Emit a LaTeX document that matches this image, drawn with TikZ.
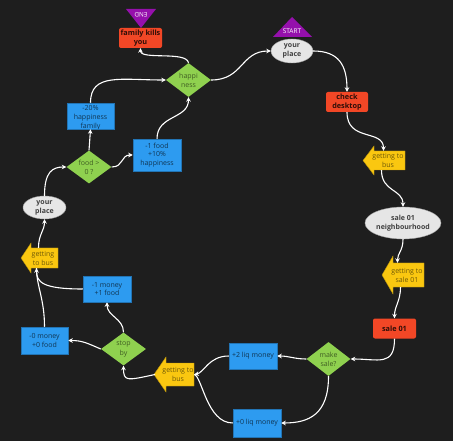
\documentclass[tikz,border=0pt]{standalone}
\usepackage{fontspec}
\setmainfont{Open Sans}
\usetikzlibrary{shapes.geometric,arrows.meta}
\definecolor{bg}{HTML}{1E1E1E}
\definecolor{cred}{HTML}{F24726}
\definecolor{cgreen}{HTML}{8FD14F}
\definecolor{cblue}{HTML}{2D9BF0}
\definecolor{cyellow}{HTML}{FAC710}
\definecolor{cpurple}{HTML}{9510AC}
\definecolor{cgray}{HTML}{E6E6E6}
\tikzset{
  redbox/.style={rectangle, rounded corners=2pt, fill=cred, inner sep=0pt, align=center,
    text=black!80!cred, font=\fontsize{7.3}{9.3}\selectfont\bfseries},
  bluebox/.style={rectangle, fill=cblue, draw=cblue!75!black, line width=0.5pt, inner sep=0pt, align=center,
    text=cblue!35!black, font=\fontsize{7}{8.8}\selectfont},
  ellbox/.style={ellipse, fill=cgray, draw=cgray!70!black, line width=0.4pt, inner sep=0pt},
  elltext/.style={align=center, text=black!75, font=\fontsize{7}{9}\selectfont\bfseries},
  dia/.style={diamond, fill=cgreen, inner sep=0pt},
  diatext/.style={align=center, text=cgreen!45!black, font=\fontsize{7}{9.2}\selectfont},
  yelbody/.style={rectangle, inner sep=0pt},
  yeltext/.style={align=center, text=cyellow!45!black, font=\fontsize{7}{9}\selectfont},
  yelfill/.style={fill=cyellow, draw=cyellow!75!black, line width=0.4pt},
  conn/.style={draw=white, line width=1.1pt, -{Stealth[length=4.5pt,width=4.5pt]}},
  plain/.style={draw=white, line width=1.1pt}
}
\begin{document}
\begin{tikzpicture}[x=1pt,y=-1pt]
\fill[bg] (0,0) rectangle (453,441);
\useasboundingbox (0,0) rectangle (453,441);

% ---------- triangles ----------
\fill[cpurple] (273,37) -- (292,17) -- (312,37) -- cycle;
\node[text=white, font=\fontsize{6.5}{8}\selectfont, inner sep=0pt] (starttxt) at (292,31) {START};
\fill[cpurple] (126,9) -- (156,9) -- (141,28) -- cycle;
\node[text=white, font=\fontsize{6.3}{8}\selectfont, inner sep=0pt, rotate=180] (endtxt) at (141,15) {END};

% ---------- red boxes ----------
\node[redbox, minimum width=43pt, minimum height=20pt] (fk) at (140.5,38) {family kills\\you};
\node[redbox, minimum width=42pt, minimum height=20pt] (cd) at (347,102) {check\\desktop};
\node[redbox, minimum width=43pt, minimum height=20pt] (s01) at (394.5,328.5) {sale 01};

% ---------- ellipses ----------
\node[ellbox, minimum width=42pt, minimum height=24pt] (yp1) at (292,51) {};
\node[elltext] at (yp1) {your\\place};
\node[ellbox, minimum width=76pt, minimum height=32pt] (snb) at (403,223) {};
\node[elltext] at (snb) {sale 01\\neighbourhood};
\node[ellbox, minimum width=43pt, minimum height=23pt] (yp2) at (44.5,207.5) {};
\node[elltext] at (yp2) {your\\place};

% ---------- diamonds ----------
\node[dia, minimum width=45pt, minimum height=34pt] (hap) at (188.5,80) {};
\node[diatext] at (hap) {happi\\ness};
\node[dia, minimum width=44pt, minimum height=34pt] (ms) at (328.5,359) {};
\node[diatext] at (ms) {make\\sale?};
\node[dia, minimum width=45pt, minimum height=33pt] (sb) at (123.5,349) {};
\node[diatext] at (sb) {stop\\by};
\node[dia, minimum width=45pt, minimum height=33pt] (fd) at (89,167) {};
\node[diatext] at (fd) {food >\\0 ?};

% ---------- blue boxes ----------
\node[bluebox, minimum width=48pt, minimum height=26pt] (p2) at (253,356) {+2 liq money};
\node[bluebox, minimum width=48pt, minimum height=28pt] (p0) at (257,423) {+0 liq money};
\node[bluebox, minimum width=47pt, minimum height=27pt] (m0) at (44.5,340.5) {-0 money\\+0 food};
\node[bluebox, minimum width=48pt, minimum height=26pt] (m1) at (107,289) {-1 money\\+1 food};
\node[bluebox, minimum width=48pt, minimum height=32pt] (f1) at (157,155) {-1 food\\+10\%\\happiness};
\node[bluebox, minimum width=47pt, minimum height=26pt] (h20) at (90.5,116) {};
\begin{scope}
\clip (67,103) rectangle (114,129);
\node[align=center, text=cblue!35!black, font=\fontsize{7}{9}\selectfont, inner sep=0pt] at (90.5,118) {-20\%\\happiness\\family};
\end{scope}

% ---------- yellow arrows ----------
\filldraw[yelfill] (374,151) -- (405,151) -- (405,170) -- (374,170) -- (374,175) -- (363,160.5) -- (374,146) -- cycle;
\node[yelbody, minimum width=31pt, minimum height=19pt] (gb1) at (389.5,160.5) {};
\node[yeltext] at (388,160.5) {getting to\\bus};

\filldraw[yelfill] (393,263) -- (424,263) -- (424,287) -- (393,287) -- (393,294) -- (382,275) -- (393,256) -- cycle;
\node[yelbody, minimum width=31pt, minimum height=24pt] (gb2) at (408.5,275) {};
\node[yeltext] at (407,275) {getting to\\sale 01};

\filldraw[yelfill] (166,363) -- (194,363) -- (194,386) -- (166,386) -- (166,392) -- (154,374.5) -- (166,357) -- cycle;
\node[yelbody, minimum width=28pt, minimum height=23pt] (gb3) at (180,374.5) {};
\node[yeltext] at (178,374.5) {getting to\\bus};

\filldraw[yelfill] (31,248) -- (58,248) -- (58,268) -- (31,268) -- (31,273) -- (21,258) -- (31,243) -- cycle;
\node[yelbody, minimum width=27pt, minimum height=20pt] (gb4) at (44.5,258) {};
\node[yeltext] at (43,258) {getting\\to bus};
\coordinate (gb3tip) at (155,374.5);

% ---------- connectors ----------
\draw[conn] (yp1.east) .. controls +(26,0) and +(0,-26) .. (cd.north);
\draw[conn] (cd.south) .. controls +(0,30) and +(0,-22) .. ([xshift=-6pt]gb1.north);
\draw[conn] ([xshift=-8pt]gb1.south) .. controls +(0,22) and +(0,-18) .. (snb.north);
\draw[conn] (snb.south) .. controls +(0,12) and +(0,-10) .. ([xshift=-11pt]gb2.north);
\draw[conn] ([xshift=-8pt]gb2.south) .. controls +(0,14) and +(0,-12) .. (s01.north);
\draw[conn] (s01.south) .. controls +(0,28) and +(28,0) .. (ms.east);
\draw[conn] (ms.west) .. controls +(-12,0) and +(12,0) .. (p2.east);
\draw[conn] (ms.south) .. controls +(0,38) and +(28,0) .. (p0.east);
\draw[conn] (p2.west) .. controls +(-20,0) and +(10,-2) .. (gb3.east);
\draw[plain] (p0.west) .. controls +(-26,0) and +(8,2) .. (gb3.east);
\draw[conn] (gb3tip) .. controls +(-28,6) and +(0,16) .. (sb.south);
\draw[conn] (sb.west) .. controls +(-14,-6) and +(14,0) .. (m0.east);
\draw[conn] (sb.north) .. controls +(0,-14) and +(0,14) .. (m1.south);
\draw[conn] (m1.west) .. controls +(-40,0) and +(0,14) .. ([xshift=-8pt]gb4.south);
\draw[plain] (m0.north) .. controls +(0,-28) and +(0,18) .. ([xshift=-8pt]gb4.south);
\draw[conn] ([xshift=-6pt]gb4.north) .. controls +(0,-14) and +(0,12) .. (yp2.south);
\draw[conn] (yp2.north) .. controls +(0,-24) and +(-14,0) .. (fd.west);
\draw[conn] (fd.north) -- (h20.south);
\draw[conn] (fd.east) .. controls +(12,0) and +(-12,0) .. (f1.west);
\draw[conn] (f1.north) .. controls +(0,-24) and +(0,22) .. (hap.south);
\draw[conn] (h20.north) .. controls +(0,-30) and +(-45,0) .. (hap.west);
\draw[conn] (hap.north) .. controls +(-2,-12) and +(0,12) .. (fk.south);
\draw[conn] (hap.east) .. controls +(32,0) and +(-30,0) .. (yp1.west);
\end{tikzpicture}
\end{document}
